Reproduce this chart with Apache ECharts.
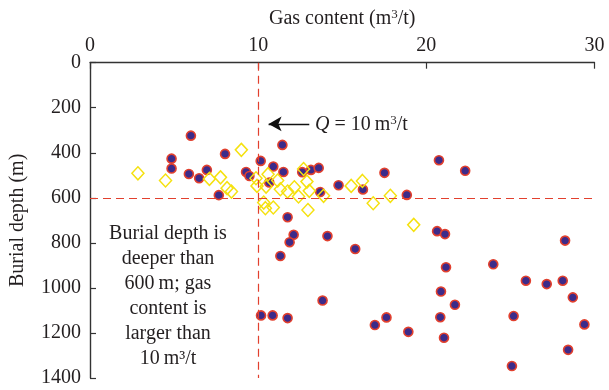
<!DOCTYPE html>
<html>
<head>
<meta charset="utf-8">
<script src="https://cdn.jsdelivr.net/npm/echarts@6/dist/echarts.min.js"></script>
<style>
  html, body { margin: 0; padding: 0; background: #fff; }
  #chart { width: 609px; height: 390px; }
</style>
</head>
<body>
<div id="chart"></div>
<script>
// Gas content (m3/t) and burial depth (m) of coal samples, [gas, depth]
var seamPoints = [
  [6.0, 324], [4.85, 426], [4.85, 470], [5.88, 494], [6.49, 513], [6.95, 476],
  [8.03, 405], [7.66, 588], [9.28, 485], [9.48, 503], [10.15, 436], [10.9, 461],
  [11.44, 365], [11.5, 485], [10.66, 532], [12.62, 486], [13.14, 476], [13.6, 467],
  [14.78, 544], [13.69, 574], [11.75, 686], [12.11, 764], [11.87, 797], [14.12, 770],
  [11.32, 858], [20.75, 433], [22.31, 480], [17.51, 489], [16.23, 563], [18.84, 587],
  [20.64, 748], [21.11, 761], [28.25, 790], [15.77, 827], [21.17, 908], [23.98, 895],
  [13.83, 1056], [10.17, 1122], [10.86, 1122], [11.75, 1134],
  [25.92, 968], [27.16, 983], [28.11, 968], [28.71, 1042], [20.87, 1016], [21.7, 1075],
  [17.63, 1131], [16.94, 1165], [18.93, 1195], [20.83, 1130], [21.05, 1221],
  [25.19, 1125], [29.4, 1162], [28.43, 1275], [25.09, 1347]
];
var shallowPoints = [
  [2.85, 491], [4.49, 523], [9.0, 387], [7.1, 516], [7.76, 509], [8.15, 557],
  [8.41, 572], [9.87, 513], [9.93, 547], [10.59, 495], [10.47, 550], [11.16, 523],
  [11.32, 562], [11.75, 572], [12.15, 553], [12.4, 594], [12.7, 472], [12.9, 528],
  [13.04, 569], [13.89, 591], [10.33, 621], [10.43, 646], [10.9, 643], [12.96, 654],
  [15.53, 547], [16.2, 525], [16.84, 624], [17.86, 591], [19.25, 720]
];
// Threshold lines and the arrow pointing at Q = 10
var gasThreshold = 10;
var depthThreshold = 600;
var arrowFrom = [13.04, 272];
var arrowTo = [10.62, 272];

var xTicks = { min: 0, max: 30, interval: 10 };
var yTicks = { min: 0, max: 1400, interval: 200 };

var FONT = '"Liberation Serif", "DejaVu Serif", serif';
var INK = '#231f20';
var RED = '#e2402e';
var FS = 20;

var chart = echarts.init(document.getElementById('chart'), null, { renderer: 'canvas' });
chart.setOption({
  animation: false,
  textStyle: { fontFamily: FONT, color: INK },
  grid: { left: 89.5, right: 14.5, top: 62.7, bottom: 12 },
  xAxis: {
    type: 'value', position: 'top',
    min: xTicks.min, max: xTicks.max, interval: xTicks.interval,
    name: 'Gas content (m{sup|3}/t)',
    nameLocation: 'middle', nameGap: 33,
    nameTextStyle: {
      fontFamily: FONT, fontSize: FS, color: INK,
      rich: { sup: { fontFamily: FONT, fontSize: 13, color: INK, verticalAlign: 'top', padding: [0, 0, 9, 0] } }
    },
    axisLine: { show: true, lineStyle: { color: '#333', width: 1.4 } },
    axisTick: { show: true, inside: true, length: 6, lineStyle: { color: '#333', width: 1.2 } },
    axisLabel: { fontFamily: FONT, fontSize: FS, color: INK, margin: 7 },
    splitLine: { show: false }
  },
  yAxis: {
    type: 'value', inverse: true,
    min: yTicks.min, max: yTicks.max, interval: yTicks.interval,
    name: 'Burial depth (m)',
    nameLocation: 'middle', nameGap: 62, nameRotate: 90,
    nameTextStyle: { fontFamily: FONT, fontSize: FS, color: INK },
    axisLine: { show: true, lineStyle: { color: '#333', width: 1.4 } },
    axisTick: { show: true, inside: true, length: 6, lineStyle: { color: '#333', width: 1.2 } },
    axisLabel: { fontFamily: FONT, fontSize: FS, color: INK, margin: 9, formatter: function (v) { return String(v); } },
    splitLine: { show: false }
  },
  series: [
    {
      type: 'scatter',
      data: seamPoints,
      symbol: 'circle', symbolSize: 9,
      itemStyle: { color: '#3c2b8a', borderColor: RED, borderWidth: 1.6, opacity: 1 },
      z: 3,
      markLine: {
        silent: true,
        symbol: ['none', 'none'],
        label: { show: false },
        lineStyle: { color: RED, type: [8, 5], width: 1.2 },
        data: [
          { xAxis: gasThreshold },
          { yAxis: depthThreshold }
        ]
      }
    },
    {
      type: 'scatter',
      data: shallowPoints,
      symbol: 'diamond', symbolSize: [12, 13],
      itemStyle: { color: 'rgba(255,255,255,0)', borderColor: '#f5e10f', borderWidth: 1.5, opacity: 1 },
      z: 4,
      markLine: {
        silent: true,
        symbol: ['none', 'arrow'],
        symbolSize: [11, 13],
        label: { show: false },
        lineStyle: { color: '#111', type: 'solid', width: 1.4 },
        data: [[{ coord: arrowFrom }, { coord: arrowTo }]]
      }
    }
  ],
  graphic: [
    {
      type: 'text', left: 315, top: 114, silent: true,
      style: {
        text: '{q|Q} = 10\u2009m{sup|3}/t',
        fontFamily: FONT, fontSize: FS, fill: INK,
        rich: {
          q: { fontFamily: FONT, fontSize: FS, fontStyle: 'italic', fill: INK },
          sup: { fontFamily: FONT, fontSize: 13, fill: INK, verticalAlign: 'top', padding: [0, 0, 9, 0] }
        }
      }
    },
    {
      type: 'text', x: 168, y: 221, silent: true,
      style: {
        text: 'Burial depth is\ndeeper than\n600\u2009m; gas\ncontent is\nlarger than\n10\u2009m\u00b3/t',
        fontFamily: FONT, fontSize: FS, fill: INK,
        align: 'center', verticalAlign: 'top', lineHeight: 25
      }
    }
  ]
});
</script>
</body>
</html>
